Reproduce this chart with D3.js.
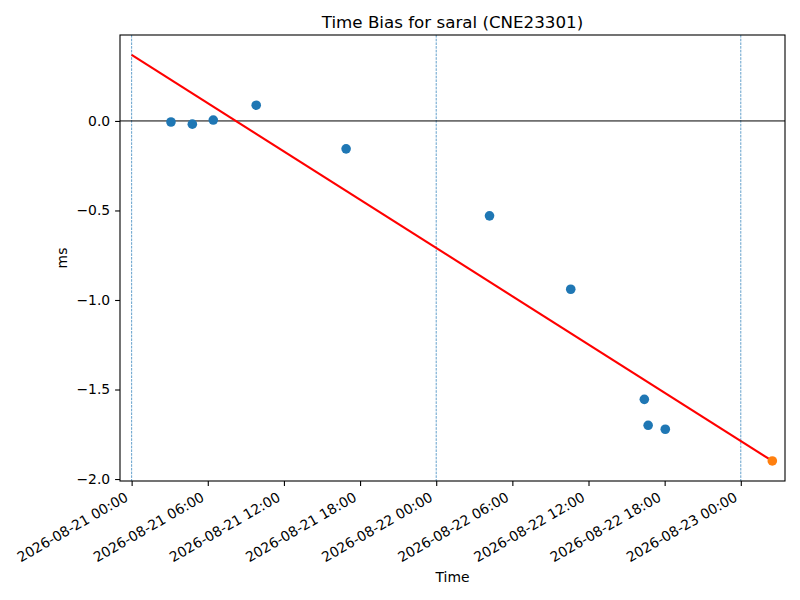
<!DOCTYPE html>
<html>
<head>
<meta charset="utf-8">
<script src="https://cdn.jsdelivr.net/npm/d3@7"></script>
<style>
    body { margin: 0; background: #fff; }
    text { font-family: "DejaVu Sans", sans-serif; fill: #000; }
    .tick-label { font-size: 13.9px; }
    .axis-label { font-size: 13.9px; }
    .plot-title { font-size: 16.7px; }
</style>
</head>
<body>
<div id="chart"></div>
<script>
"use strict"

// measured bias samples (ms)
const sampleTimes = [
    "2026-08-21 03:06", "2026-08-21 04:47", "2026-08-21 06:26", "2026-08-21 09:49",
    "2026-08-21 16:54", "2026-08-22 04:12", "2026-08-22 10:36", "2026-08-22 16:24",
    "2026-08-22 16:42", "2026-08-22 18:03"
]
const sampleBias = [-0.006, -0.018, 0.005, 0.088, -0.156, -0.53, -0.94, -1.555, -1.70, -1.722]

// latest (predicted) point
const lastTime = ["2026-08-23 02:29"]
const lastBias = [-1.899]

// fitted trend line end points
const fitTimes = ["2026-08-21 00:00", "2026-08-23 02:29"]
const fitBias = [0.369, -1.899]

// day boundaries
const dayMarks = ["2026-08-21 00:00", "2026-08-22 00:00", "2026-08-23 00:00"]

// axis extents and ticks
const xDomain = ["2026-08-20 23:05", "2026-08-23 03:29"]
const yDomain = [-2.011, 0.48]
const xTicks = [
    "2026-08-21 00:00", "2026-08-21 06:00", "2026-08-21 12:00", "2026-08-21 18:00",
    "2026-08-22 00:00", "2026-08-22 06:00", "2026-08-22 12:00", "2026-08-22 18:00",
    "2026-08-23 00:00"
]
const yTicks = [-2.0, -1.5, -1.0, -0.5, 0.0]

const parse = d3.utcParse("%Y-%m-%d %H:%M")
const fmtX = d3.utcFormat("%Y-%m-%d %H:%M")
const fmtY = v => d3.format(".1f")(v).replace("-", "\u2212")

const chart = { w: 800, h: 600 }
const frame = { l: 120, r: 785, t: 35, b: 481 }

const x = d3.scaleUtc()
            .domain(xDomain.map(parse))
            .range([frame.l, frame.r])
const y = d3.scaleLinear()
            .domain(yDomain)
            .range([frame.b, frame.t])

const svg = d3.select("#chart")
            .append("svg")
                .attr("width", chart.w)
                .attr("height", chart.h)
                .attr("viewBox", `0 0 ${ chart.w } ${ chart.h }`)

// day boundary lines
svg.selectAll(".day")
    .data(dayMarks.map(parse))
    .enter().append("line")
        .attr("class", "day")
        .attr("x1", d => x(d)).attr("x2", d => x(d))
        .attr("y1", frame.t).attr("y2", frame.b)
        .attr("stroke", "#1f77b4")
        .attr("stroke-width", 0.7)
        .attr("stroke-dasharray", "2.6,1.1")

// zero line
svg.append("line")
    .attr("x1", frame.l).attr("x2", frame.r)
    .attr("y1", y(0)).attr("y2", y(0))
    .attr("stroke", "#000")
    .attr("stroke-width", 1)

// trend line
const fit = fitTimes.map((t, i) => ({ t: parse(t), v: fitBias[i] }))
svg.append("path")
    .datum(fit)
    .attr("fill", "none")
    .attr("stroke", "red")
    .attr("stroke-width", 2.1)
    .attr("d", d3.line().x(d => x(d.t)).y(d => y(d.v)))

// samples
const samples = sampleTimes.map((t, i) => ({ t: parse(t), v: sampleBias[i] }))
svg.selectAll(".datapt")
    .data(samples)
    .enter().append("circle")
        .attr("class", "datapt")
        .attr("cx", d => x(d.t))
        .attr("cy", d => y(d.v))
        .attr("r", 4.8)
        .attr("fill", "#1f77b4")

// latest point
const last = lastTime.map((t, i) => ({ t: parse(t), v: lastBias[i] }))
svg.selectAll(".lastpt")
    .data(last)
    .enter().append("circle")
        .attr("class", "lastpt")
        .attr("cx", d => x(d.t))
        .attr("cy", d => y(d.v))
        .attr("r", 4.8)
        .attr("fill", "#ff7f0e")

// axes
const xAxis = svg.append("g")
    .attr("transform", `translate(0, ${ frame.b })`)
    .call(d3.axisBottom(x).tickValues(xTicks.map(parse)).tickFormat(fmtX).tickSize(4.9).tickSizeOuter(0))
xAxis.select(".domain").remove()
xAxis.selectAll(".tick line").attr("stroke", "#000").attr("stroke-width", 1.1)
xAxis.selectAll(".tick text")
    .attr("class", "tick-label")
    .attr("text-anchor", "end")
    .attr("y", 0).attr("dy", 0)
    .attr("transform", "translate(-3, 19) rotate(-30)")

const yAxis = svg.append("g")
    .attr("transform", `translate(${ frame.l }, 0)`)
    .call(d3.axisLeft(y).tickValues(yTicks).tickFormat(fmtY).tickSize(4.9).tickPadding(4.9).tickSizeOuter(0))
yAxis.select(".domain").remove()
yAxis.selectAll(".tick line").attr("stroke", "#000").attr("stroke-width", 1.1)
yAxis.selectAll(".tick text").attr("class", "tick-label")
svg.selectAll("g").attr("font-size", null).attr("font-family", null)

// frame
svg.append("rect")
    .attr("x", frame.l).attr("y", frame.t)
    .attr("width", frame.r - frame.l).attr("height", frame.b - frame.t)
    .attr("fill", "none")
    .attr("stroke", "#000")
    .attr("stroke-width", 1.1)

// labels
svg.append("text")
    .text("Time Bias for saral (CNE23301)")
    .attr("class", "plot-title")
    .attr("text-anchor", "middle")
    .attr("x", (frame.l + frame.r) / 2)
    .attr("y", 28)

svg.append("text")
    .text("Time")
    .attr("class", "axis-label")
    .attr("text-anchor", "middle")
    .attr("x", (frame.l + frame.r) / 2)
    .attr("y", 582)

svg.append("text")
    .text("ms")
    .attr("class", "axis-label")
    .attr("text-anchor", "middle")
    .attr("transform", `translate(67, ${ (frame.t + frame.b) / 2 }) rotate(-90)`)
</script>
</body>
</html>
